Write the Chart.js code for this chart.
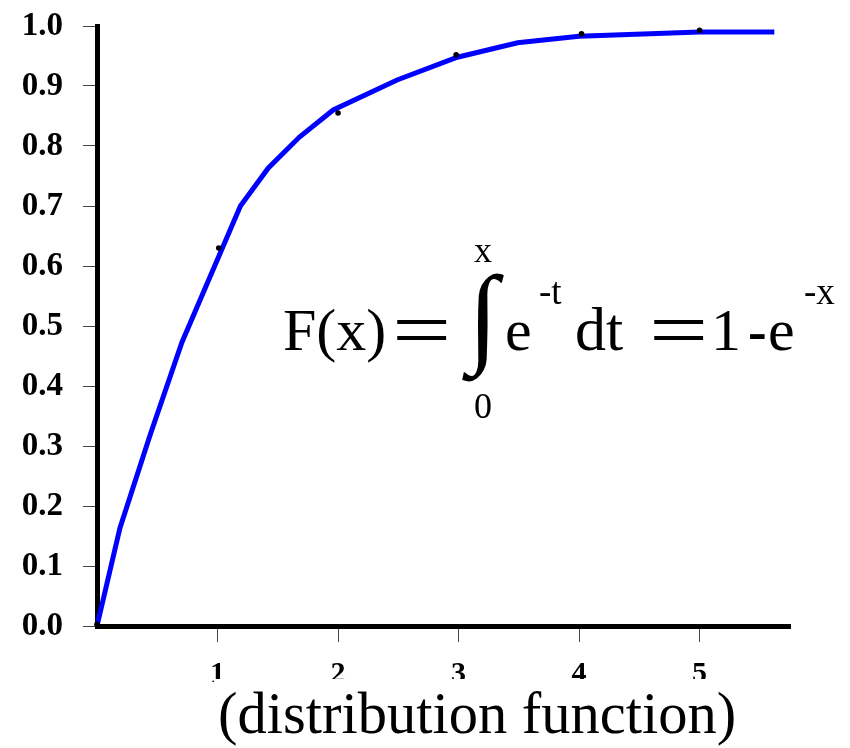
<!DOCTYPE html>
<html>
<head>
<meta charset="utf-8">
<script src="https://cdn.jsdelivr.net/npm/chart.js@4.4.1/dist/chart.umd.min.js"></script>
<style>
  html, body { margin:0; padding:0; background:#fff; }
  #wrap { position:relative; width:850px; height:748px; overflow:hidden; }
  #c { position:absolute; left:0; top:0; }
  .t { position:absolute; font-family:"Liberation Serif","Times New Roman",serif; color:#000; line-height:1; white-space:nowrap; }
  #cap { position:absolute; left:214px; top:679px; height:69px; line-height:69px; font-size:58.5px; padding:0 4px;
         font-family:"Liberation Serif","Times New Roman",serif; background:#fff; color:#000; white-space:nowrap; }
</style>
</head>
<body>
<div id="wrap">
  <canvas id="c" width="850" height="748"></canvas>
  <div id="cap">(distribution function)</div>
</div>
<script>
// ---- data ----
const curveX = [0, 0.19, 0.44, 0.705, 1.19, 1.42, 1.68, 1.96, 2.49, 2.99, 3.49, 4.0, 5.0, 5.62];
const curveY = [0, 0.163, 0.318, 0.473, 0.70, 0.763, 0.815, 0.86, 0.91, 0.948, 0.972, 0.983, 0.99, 0.99];
const dotX = [0, 1.01, 2.0, 2.98, 4.02, 5.0];
const dotY = [0.003, 0.63, 0.855, 0.952, 0.987, 0.993];
const xTicks = [1, 2, 3, 4, 5];
const yTicks = [0, 0.1, 0.2, 0.3, 0.4, 0.5, 0.6, 0.7, 0.8, 0.9, 1.0];

const toPts = (xs, ys) => xs.map((x, i) => ({ x: x, y: ys[i] }));

new Chart(document.getElementById('c'), {
  type: 'scatter',
  data: {
    datasets: [
      { data: toPts(curveX, curveY), showLine: true, borderColor: '#0000ff', borderWidth: 5,
        pointRadius: 0, tension: 0, fill: false, clip: false, order: 2 },
      { data: toPts(dotX, dotY), showLine: false, pointRadius: 2.8, pointBackgroundColor: '#000',
        pointBorderWidth: 0, clip: false, order: 1 }
    ]
  },
  options: {
    responsive: false, animation: false,
    layout: { padding: { top: 26, right: 60, left: 0, bottom: 0 } },
    plugins: { legend: { display: false }, tooltip: { enabled: false } },
    scales: {
      x: {
        type: 'linear', min: 0, max: 5.75,
        afterBuildTicks: s => { s.ticks = xTicks.map(v => ({ value: v })); },
        afterFit: s => { s.height = 122; s.paddingLeft = 0; s.paddingRight = 0; },
        grid: { drawOnChartArea: false, drawTicks: true, tickLength: 16, color: '#444', tickWidth: 1 },
        border: { display: true, color: '#000', width: 5 },
        ticks: { padding: 14, color: '#000', font: { family: 'Liberation Serif', weight: 'bold', size: 30 },
                 callback: v => String(v) }
      },
      y: {
        type: 'linear', min: 0, max: 1,
        afterBuildTicks: s => { s.ticks = yTicks.map(v => ({ value: v })); },
        afterFit: s => { s.width = 97; s.paddingTop = 0; s.paddingBottom = 0; },
        grid: { drawOnChartArea: false, drawTicks: true, tickLength: 14, color: '#444', tickWidth: 1 },
        border: { display: true, color: '#000', width: 5 },
        ticks: { padding: 20, color: '#000', font: { family: 'Liberation Serif', weight: 'bold', size: 33 },
                 callback: v => Number(v).toFixed(1) }
      }
    }
  }
});

// ---- formula as real text ----
const wrap = document.getElementById('wrap');
function place(text, left, baseline, size, opts) {
  opts = opts || {};
  const d = document.createElement('div');
  d.className = 't';
  d.textContent = text;
  d.style.fontSize = size + 'px';
  d.style.top = (baseline - 0.8375 * size) + 'px';
  d.style.left = left + 'px';
  let tf = '';
  if (opts.center) tf += 'translateX(-50%) ';
  if (opts.tf) tf += opts.tf;
  if (tf) d.style.transform = tf;
  if (opts.weight) d.style.fontWeight = opts.weight;
  d.style.transformOrigin = opts.origin || 'left center';
  wrap.appendChild(d);
}
const B = 350;
place('F(x)', 283, B, 60);
place('=', 392, B, 60, { tf: 'scale(1.75,1.3)' });
place('\u222B', 483, B + 2, 110, { center: true, weight: 'bold' });
place('x', 483, 262, 36, { center: true });
place('0', 483, 418, 36, { center: true });
place('e', 505, B, 60);
place('-t', 539, 304, 37);
place('dt', 575, B, 62);
place('=', 649, B, 60, { tf: 'scale(1.75,1.3)' });
place('1', 711, B, 60);
place('-', 748, B, 56, { weight: 'bold' });
place('e', 768, B, 60);
place('-x', 804, 304, 37);
</script>
</body>
</html>
